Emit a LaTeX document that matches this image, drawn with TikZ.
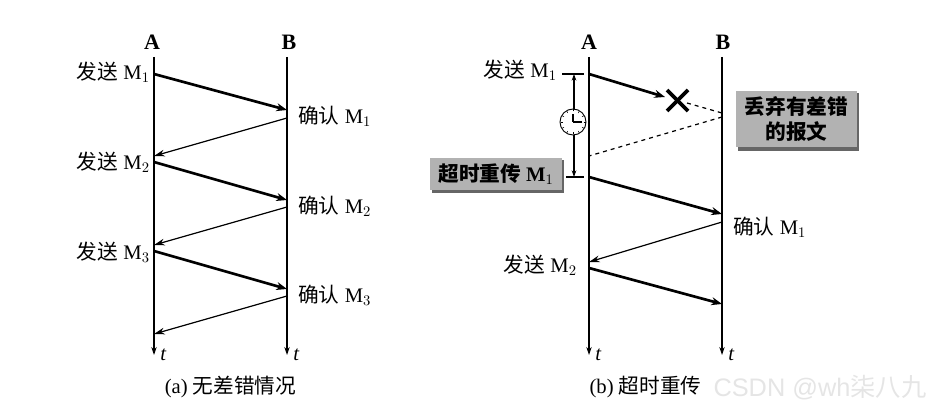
\documentclass[tikz,border=0pt]{standalone}
\usepackage{fontspec}
\usepackage{amsmath}
\setmainfont{Liberation Serif}
\newfontfamily\cjk{Noto Sans CJK SC}
\newfontfamily\wmark{Liberation Sans}
\usetikzlibrary{arrows.meta}
\tikzset{
  lifeline/.style={line width=0.8pt,-{Stealth[length=6pt,width=4pt]}},
  sendarrow/.style={line width=2pt,-{Stealth[length=8pt,width=6pt]}},
  ackarrow/.style={line width=0.9pt,-{Stealth[length=8pt,width=5pt]}},
  lostline/.style={line width=0.9pt,dashed},
  lbl/.style={inner sep=0pt,font=\fontsize{15.5}{18}\selectfont},
  headlbl/.style={inner sep=0pt,font=\fontsize{16.5}{18}\selectfont\bfseries},
  greybox/.style={fill=black!30,inner sep=0pt,align=center,font=\fontsize{15.5}{19}\selectfont\bfseries}
}
\begin{document}
\begin{tikzpicture}[x=0.75pt,y=-0.75pt]
\useasboundingbox (0,0) rectangle (945,416);
% watermark
\node[inner sep=0pt,text=black!10,font=\wmark\fontsize{19}{22}\selectfont] (mark) at (820,388) {CSDN @wh{\cjk 柒八九}};
% left picture
\node[headlbl] (A1) at (152,42) {A};
\node[headlbl] (B1) at (289,42) {B};
\coordinate (A1top) at (154,57);
\coordinate (A1end) at (154,355);
\coordinate (B1top) at (287,57);
\coordinate (B1end) at (287,355);
\draw[lifeline] (A1top) -- (A1end);
\draw[lifeline] (B1top) -- (B1end);
\node[lbl,right] (t1) at (160,355) {\textit{t}};
\node[lbl,right] (t2) at (293,355) {\textit{t}};
\coordinate (p1) at (154,74);
\coordinate (q1) at (287,110);
\coordinate (q2) at (287,118);
\coordinate (p2) at (154,156);
\coordinate (p3) at (154,162);
\coordinate (q3) at (287,200);
\coordinate (q4) at (287,207);
\coordinate (p4) at (154,245);
\coordinate (p5) at (154,251);
\coordinate (q5) at (287,289);
\coordinate (q6) at (287,296);
\coordinate (p6) at (154,334);
\draw[sendarrow] (p1) -- (q1);
\draw[ackarrow] (q2) -- (p2);
\draw[sendarrow] (p3) -- (q3);
\draw[ackarrow] (q4) -- (p4);
\draw[sendarrow] (p5) -- (q5);
\draw[ackarrow] (q6) -- (p6);
\node[lbl,left] (s1) at (150,72) {{\cjk 发送} M$_1$};
\node[lbl,left] (s2) at (150,162) {{\cjk 发送} M$_2$};
\node[lbl,left] (s3) at (150,252) {{\cjk 发送} M$_3$};
\node[lbl,right] (c1) at (298,116) {{\cjk 确认} M$_1$};
\node[lbl,right] (c2) at (298,206) {{\cjk 确认} M$_2$};
\node[lbl,right] (c3) at (298,295) {{\cjk 确认} M$_3$};
\node[lbl] (cap1) at (230.5,387) {(a) {\cjk 无差错情况}};
% right picture
\node[headlbl] (A2) at (589,42) {A};
\node[headlbl] (B2) at (723,42) {B};
\coordinate (A2top) at (589,57);
\coordinate (A2end) at (589,355);
\coordinate (B2top) at (722,57);
\coordinate (B2end) at (722,355);
\draw[lifeline] (A2top) -- (A2end);
\draw[lifeline] (B2top) -- (B2end);
\node[lbl,right] (t3) at (595,355) {\textit{t}};
\node[lbl,right] (t4) at (728,355) {\textit{t}};
\coordinate (u1) at (589,74);
\coordinate (v0) at (665,97);
\coordinate (v1) at (687,103);
\coordinate (w1) at (722,113);
\coordinate (w2) at (722,117);
\coordinate (u2) at (589,156);
\coordinate (u3) at (589,177);
\coordinate (w3) at (722,214);
\coordinate (w4) at (722,222);
\coordinate (u4) at (589,262);
\coordinate (u5) at (589,268);
\coordinate (w5) at (722,304);
\draw[sendarrow] (u1) -- (v0);
\draw[lostline] (v1) -- (w1);
\draw[lostline] (w2) -- (u2);
\draw[sendarrow] (u3) -- (w3);
\draw[ackarrow] (w4) -- (u4);
\draw[sendarrow] (u5) -- (w5);
% cross
\draw[line width=2.8pt] (667,90) -- (688,111);
\draw[line width=2.8pt] (667,111) -- (688,90);
% timer
\coordinate (k1) at (562,74);
\coordinate (k2) at (584,74);
\coordinate (k3) at (566,177);
\coordinate (k4) at (584,177);
\coordinate (d1) at (574,74);
\coordinate (d2) at (574,177);
\draw[line width=0.8pt] (k1) -- (k2);
\draw[line width=0.8pt] (k3) -- (k4);
\draw[line width=0.8pt,{Stealth[length=5pt,width=3.5pt]}-{Stealth[length=5pt,width=3.5pt]}] (d1) -- (d2);
\node[shape=circle,draw,fill=white,line width=0.7pt,minimum size=19.5pt,inner sep=0pt] (clock) at (573,122) {};
\draw[line width=0.9pt] (clock.center) -- ++(0,-8);
\draw[line width=0.9pt] (clock.center) -- ++(9,0);
\foreach \a in {0,30,...,330} \draw[line width=0.4pt] (clock.center) ++(\a:10.5) -- ++(\a:2);
% boxes
\fill[black!60] (432,160) rectangle (564,193);
\fill[black!60] (738,93) rectangle (859,151);
\node[greybox,minimum width=99pt,minimum height=24pt] (lost) at (496,174) {{\cjk 超时重传} M$_1$};
\node[greybox,minimum width=90.75pt,minimum height=42pt] (drop) at (796.5,119) {{\cjk 丢弃有差错}\\{\cjk 的报文}};
\node[lbl,left] (s4) at (557,70) {{\cjk 发送} M$_1$};
\node[lbl,left] (s5) at (577,265) {{\cjk 发送} M$_2$};
\node[lbl,right] (c4) at (733,227) {{\cjk 确认} M$_1$};
\node[lbl] (cap2) at (645.5,387) {(b) {\cjk 超时重传}};
\end{tikzpicture}
\end{document}
